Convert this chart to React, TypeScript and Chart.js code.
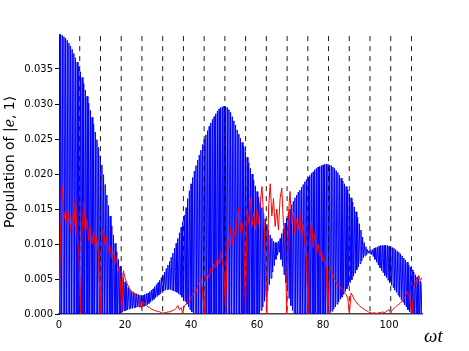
import React, { useEffect, useRef } from "react";
import { Chart, registerables } from "chart.js";

Chart.register(...registerables);

// Upper turning points of the fast blue oscillation, at ωt = 0, 0.5, 1.0, ..., 110
const blueStep = 0.5;
const bluePeaks = [
  0.0400, 0.0399, 0.0398, 0.0396, 0.0394, 0.0391, 0.0387, 0.0383, 0.0378, 0.0372,
  0.0366, 0.0360, 0.0353, 0.0346, 0.0338, 0.0329, 0.0320, 0.0311, 0.0301, 0.0291,
  0.0281, 0.0271, 0.0260, 0.0249, 0.0238, 0.0226, 0.0213, 0.0199, 0.0185, 0.0170,
  0.0155, 0.0140, 0.0126, 0.0113, 0.0101, 0.0089, 0.0078, 0.0068, 0.0059, 0.0052,
  0.0046, 0.0042, 0.0038, 0.0035, 0.0033, 0.0031, 0.0030, 0.0029, 0.0028, 0.0027,
  0.0027, 0.0027, 0.0028, 0.0029, 0.0030, 0.0032, 0.0034, 0.0036, 0.0039, 0.0042,
  0.0045, 0.0048, 0.0052, 0.0056, 0.0060, 0.0065, 0.0070, 0.0075, 0.0081, 0.0087,
  0.0094, 0.0101, 0.0108, 0.0116, 0.0124, 0.0132, 0.0141, 0.0152, 0.0165, 0.0176,
  0.0186, 0.0195, 0.0204, 0.0212, 0.0220, 0.0227, 0.0234, 0.0242, 0.0249, 0.0256,
  0.0262, 0.0268, 0.0273, 0.0278, 0.0282, 0.0286, 0.0290, 0.0293, 0.0295, 0.0296,
  0.0297, 0.0296, 0.0295, 0.0292, 0.0288, 0.0282, 0.0276, 0.0270, 0.0263, 0.0257,
  0.0251, 0.0245, 0.0239, 0.0232, 0.0224, 0.0216, 0.0208, 0.0200, 0.0191, 0.0183,
  0.0175, 0.0167, 0.0159, 0.0152, 0.0144, 0.0136, 0.0128, 0.0120, 0.0113, 0.0108,
  0.0104, 0.0102, 0.0102, 0.0104, 0.0108, 0.0115, 0.0122, 0.0130, 0.0137, 0.0144,
  0.0150, 0.0156, 0.0161, 0.0166, 0.0170, 0.0174, 0.0177, 0.0181, 0.0185, 0.0189,
  0.0192, 0.0195, 0.0198, 0.0201, 0.0203, 0.0206, 0.0208, 0.0210, 0.0211, 0.0212,
  0.0213, 0.0214, 0.0214, 0.0214, 0.0213, 0.0212, 0.0210, 0.0208, 0.0205, 0.0202,
  0.0198, 0.0194, 0.0190, 0.0186, 0.0182, 0.0177, 0.0172, 0.0166, 0.0160, 0.0153,
  0.0146, 0.0138, 0.0129, 0.0120, 0.0110, 0.0102, 0.0096, 0.0092, 0.0090, 0.0091,
  0.0092, 0.0094, 0.0095, 0.0096, 0.0097, 0.0098, 0.0098, 0.0098, 0.0098, 0.0098,
  0.0097, 0.0096, 0.0095, 0.0094, 0.0092, 0.0090, 0.0088, 0.0086, 0.0083, 0.0080,
  0.0077, 0.0074, 0.0070, 0.0067, 0.0063, 0.0060, 0.0056, 0.0053, 0.0050, 0.0047,
  0.0045,
];

// Lower turning points of the blue oscillation, at ωt = 0.25, 0.75, ..., 109.75
const blueTroughs = [
  0, 0, 0, 0, 0, 0, 0, 0, 0, 0,
  0, 0, 0, 0, 0, 0, 0, 0, 0, 0,
  0, 0, 0, 0, 0, 0, 0, 0, 0, 0,
  0, 0, 0, 0, 0, 0, 0, 0.0001, 0.0003, 0.0004,
  0.0005, 0.0006, 0.0007, 0.0008, 0.0008, 0.0009, 0.0009, 0.0010, 0.0010, 0.0010,
  0.0010, 0.0011, 0.0012, 0.0013, 0.0015, 0.0017, 0.0019, 0.0021, 0.0023, 0.0025,
  0.0027, 0.0029, 0.0031, 0.0033, 0.0034, 0.0035, 0.0035, 0.0035, 0.0034, 0.0033,
  0.0032, 0.0031, 0.0029, 0.0027, 0.0024, 0.0021, 0.0018, 0.0014, 0.0010, 0.0006,
  0.0003, 0.0001, 0, 0, 0, 0, 0, 0, 0, 0,
  0, 0, 0, 0, 0, 0, 0, 0, 0, 0,
  0, 0, 0, 0, 0, 0, 0, 0, 0, 0,
  0, 0, 0, 0, 0, 0, 0, 0, 0, 0,
  0, 0, 0.0005, 0.0010, 0.0018, 0.0025, 0.0033, 0.0042, 0.0051, 0.0060,
  0.0069, 0.0078, 0.0084, 0.0088, 0.0078, 0.0068, 0.0056, 0.0045, 0.0033, 0.0022,
  0.0012, 0.0005, 0, 0, 0, 0, 0, 0, 0, 0,
  0, 0, 0, 0, 0, 0, 0, 0, 0, 0,
  0, 0, 0, 0, 0.0002, 0.0004, 0.0007, 0.0010, 0.0014, 0.0017,
  0.0021, 0.0024, 0.0028, 0.0032, 0.0036, 0.0040, 0.0045, 0.0049, 0.0054, 0.0058,
  0.0063, 0.0067, 0.0072, 0.0076, 0.0080, 0.0083, 0.0085, 0.0087, 0.0086, 0.0085,
  0.0082, 0.0078, 0.0074, 0.0070, 0.0066, 0.0062, 0.0059, 0.0055, 0.0052, 0.0048,
  0.0045, 0.0041, 0.0038, 0.0034, 0.0031, 0.0027, 0.0024, 0.0020, 0.0017, 0.0013,
  0.0010, 0.0006, 0.0003, 0, 0, 0, 0, 0, 0, 0,
];

// Red curve, sampled at ωt = 0, 0.5, 1.0, ..., 110
const redStep = 0.5;
const redValues = [
  0, 0.0120, 0.0183, 0.0135, 0.0150, 0.0128, 0.0145, 0.0118, 0.0140, 0.0125,
  0.0170, 0.0110, 0.0090, 0, 0.0120, 0.0160, 0.0115, 0.0135, 0.0105, 0.0125,
  0.0100, 0.0118, 0.0095, 0.0110, 0.0085, 0, 0.0115, 0.0120, 0.0098, 0.0110,
  0.0090, 0.0095, 0.0080, 0.0088, 0.0072, 0.0078, 0.0065, 0.0055, 0, 0.0062,
  0.0052, 0.0045, 0.0040, 0.0035, 0.0030, 0.0032, 0.0026, 0.0024, 0.0020, 0.0016,
  0.0008, 0.0018, 0.0014, 0.0012, 0.0010, 0.0009, 0.0007, 0.0006, 0.0005, 0.0004,
  0.0004, 0.0003, 0.0002, 0.0001, 0.0002, 0.0002, 0.0003, 0.0003, 0.0004, 0.0005,
  0.0006, 0.0008, 0.0012, 0.0006, 0.0009, 0.0001, 0.0012, 0.0014, 0.0019, 0.0017,
  0.0024, 0.0026, 0.0032, 0.0030, 0.0040, 0.0046, 0.0052, 0.0035, 0, 0.0050,
  0.0058, 0.0052, 0.0065, 0.0060, 0.0072, 0.0066, 0.0080, 0.0072, 0.0088, 0.0075,
  0.0060, 0, 0.0110, 0.0095, 0.0125, 0.0100, 0.0120, 0.0108, 0.0140, 0.0152,
  0.0118, 0.0130, 0.0105, 0, 0.0150, 0.0130, 0.0165, 0.0125, 0.0145, 0.0120,
  0.0150, 0.0128, 0.0160, 0.0182, 0.0140, 0.0090, 0, 0.0150, 0.0186, 0.0140,
  0.0165, 0.0125, 0.0150, 0.0120, 0.0165, 0.0180, 0.0130, 0.0110, 0, 0.0140,
  0.0175, 0.0130, 0.0145, 0.0115, 0.0135, 0.0120, 0.0146, 0.0110, 0.0128, 0.0100,
  0.0080, 0, 0.0110, 0.0132, 0.0095, 0.0115, 0.0088, 0.0100, 0.0082, 0.0092,
  0.0075, 0.0080, 0.0065, 0, 0.0068, 0.0062, 0.0055, 0.0050, 0.0046, 0.0040,
  0.0042, 0.0035, 0.0036, 0.0030, 0.0028, 0.0022, 0, 0.0030, 0.0026, 0.0020,
  0.0018, 0.0014, 0.0012, 0.0010, 0.0008, 0.0007, 0.0005, 0.0004, 0.0002, 0.0002,
  0.0001, 0.0002, 0.0001, 0.0001, 0.0002, 0.0002, 0.0003, 0.0002, 0.0003, 0.0005,
  0.0006, 0.0001, 0.0006, 0.0008, 0.0010, 0.0012, 0.0014, 0.0016, 0.0019, 0.0022,
  0.0026, 0.0032, 0.0028, 0.0015, 0, 0.0040, 0.0048, 0.0042, 0.0055, 0.0048,
  0.0052,
];

// Vertical dashed markers (ωt = 2πk)
const dashPositions = [
  6.28, 12.57, 18.85, 25.13, 31.42, 37.70, 43.98, 50.27, 56.55,
  62.83, 69.12, 75.40, 81.68, 87.96, 94.25, 100.53, 106.81,
];
const dashTop = 0.0397;

const xTicks = [0, 20, 40, 60, 80, 100];
const yTicks = [0, 0.005, 0.01, 0.015, 0.02, 0.025, 0.03, 0.035];
const xMax = 110;
const yMax = 0.04;

const yLabelParts = [
  { text: "Population of ", font: '14px "DejaVu Sans"' },
  { text: "|", font: '14px "DejaVu Sans"' },
  { text: "e", font: 'italic 14px "DejaVu Serif"' },
  { text: ", 1⟩", font: '14px "DejaVu Sans"' },
];
const xLabel = "ωt";

const titlesPlugin = {
  id: "axisTitles",
  afterDraw(chart: any) {
    const ctx = chart.ctx as CanvasRenderingContext2D;
    ctx.save();
    ctx.fillStyle = "#000";
    ctx.translate(13.5, 228);
    ctx.rotate(-Math.PI / 2);
    ctx.textAlign = "left";
    ctx.textBaseline = "alphabetic";
    let pos = 0;
    for (const p of yLabelParts) {
      ctx.font = p.font;
      ctx.fillText(p.text, pos, 0);
      pos += ctx.measureText(p.text).width;
    }
    ctx.restore();
    ctx.save();
    ctx.fillStyle = "#000";
    ctx.font = 'italic 19px "Liberation Serif"';
    ctx.textAlign = "left";
    ctx.textBaseline = "alphabetic";
    ctx.fillText(xLabel, chart.chartArea.right + 2, 342);
    ctx.restore();
  },
};

export default function App() {
  const ref = useRef<HTMLCanvasElement>(null);
  useEffect(() => {
    if (!ref.current) return;
    const blue: { x: number; y: number }[] = [];
    for (let i = 0; i < bluePeaks.length; i++) {
      blue.push({ x: i * blueStep, y: bluePeaks[i] });
      if (i < blueTroughs.length) blue.push({ x: i * blueStep + blueStep / 2, y: blueTroughs[i] });
    }
    const red = redValues.map((v, i) => ({ x: i * redStep, y: v }));
    const dashes: { x: number; y: number | null }[] = [];
    dashPositions.forEach((p) => {
      dashes.push({ x: p, y: dashTop });
      dashes.push({ x: p, y: 0 });
      dashes.push({ x: p, y: null });
    });

    const chart = new Chart(ref.current, {
      type: "line",
      data: {
        datasets: [
          {
            data: red,
            borderColor: "rgb(255,0,0)",
            borderWidth: 1,
            pointRadius: 0,
            tension: 0,
            order: 1,
          },
          {
            data: dashes as any,
            borderColor: "rgba(0,0,0,0.9)",
            borderWidth: 1,
            borderDash: [5, 5],
            pointRadius: 0,
            spanGaps: false,
            order: 2,
          },
          {
            data: blue,
            borderColor: "rgb(0,0,255)",
            borderWidth: 1,
            pointRadius: 0,
            tension: 0,
            order: 3,
          },
        ],
      },
      options: {
        animation: false,
        responsive: false,
        events: [],
        layout: { padding: { top: 34, right: 47, left: 0, bottom: 0 } },
        plugins: { legend: { display: false }, tooltip: { enabled: false } },
        scales: {
          x: {
            type: "linear",
            min: 0,
            max: xMax,
            afterBuildTicks: (s: any) => {
              s.ticks = xTicks.map((v) => ({ value: v }));
            },
            afterFit: (s: any) => {
              s.height = 37;
            },
            grid: { display: false, drawTicks: false },
            border: { display: true, color: "#444", width: 1.5 },
            ticks: {
              color: "#000",
              padding: 5,
              maxRotation: 0,
              font: { family: "DejaVu Sans", size: 10 },
              callback: (v: any) => String(v),
            },
          },
          y: {
            type: "linear",
            min: 0,
            max: yMax,
            afterBuildTicks: (s: any) => {
              s.ticks = yTicks.map((v) => ({ value: v }));
            },
            afterFit: (s: any) => {
              s.width = 59;
            },
            grid: {
              display: true,
              drawOnChartArea: false,
              drawTicks: true,
              tickLength: 4,
              color: "#000",
            },
            border: { display: true, color: "#000", width: 1 },
            ticks: {
              color: "#000",
              padding: 2,
              font: { family: "DejaVu Sans", size: 10 },
              callback: (v: any) => Number(v).toFixed(3),
            },
          },
        },
      },
      plugins: [titlesPlugin],
    });
    return () => chart.destroy();
  }, []);

  return (
    <div style={{ position: "absolute", left: 0, top: 0, width: 469, height: 351, background: "#fff" }}>
      <canvas ref={ref} width={469} height={351} style={{ display: "block" }} />
    </div>
  );
}
